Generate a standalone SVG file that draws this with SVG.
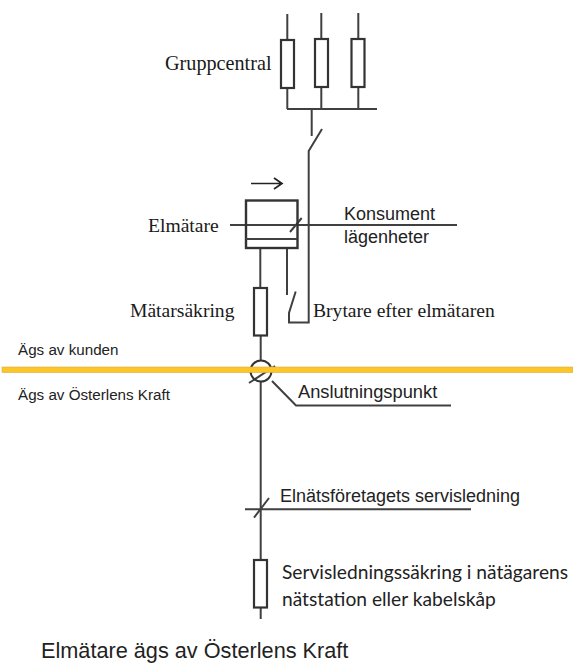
<svg xmlns="http://www.w3.org/2000/svg" width="573" height="666" viewBox="0 0 573 666">
<style>
.w{fill:none;stroke:#404040;stroke-width:2}
.f{fill:#fff;stroke:#333;stroke-width:2.200}
.s{font-family:"Liberation Serif",serif;font-size:19.6px;fill:#1a1a1a}
.a{font-family:"Liberation Sans",sans-serif;fill:#222}
.c{font-family:Lato,"Noto Sans",sans-serif;font-size:19.200px;fill:#222}
</style>
<rect width="573" height="666" fill="#fff"/>
<g id="connectors">
<path class="w" d="M287.3 14V40M287.3 88V109M321.3 13V39M321.3 87V109M358.3 13V39M358.3 87V109M287 109H377M311.7 109V136M322 129L308.7 151V322.5H289V313L295.7 291.500M287 248V295"/>
<path class="w" d="M230 225H457M290 232L301.700 218M260.300 248V288M260.700 336V360M260.700 381V560M260.700 608V619"/>
<path class="w" d="M272 381L296 405.500H451M245 509.300H471M254 517.700L269 498"/>
<path d="M249 383L275 366" class="w"/>
</g>
<g id="arrow"><path d="M251 183.500H282M274 178L282 183.500L274 189" fill="none" stroke="#222" stroke-width="1.700"/></g>
<g id="fuse-1"><rect class="f" x="281" y="40" width="13" height="48"/></g>
<g id="fuse-2"><rect class="f" x="315" y="39" width="13" height="48"/></g>
<g id="fuse-3"><rect class="f" x="351.500" y="39" width="13" height="48"/></g>
<g id="gruppcentral-label"><text class="s" x="165" y="70" style="font-size:20.200px">Gruppcentral</text></g>
<g id="elmatare"><rect x="246" y="200.500" width="51.500" height="47.500" fill="none" stroke="#333" stroke-width="2.400"/><path d="M246 239H297" class="w"/><text class="s" x="148" y="232">Elmätare</text></g>
<g id="consumer-label"><text class="a" x="344" y="220" font-size="18">Konsument</text><text class="a" x="344" y="243" font-size="18">lägenheter</text></g>
<g id="matarsakring"><rect class="f" x="254" y="288" width="13" height="47.500"/><text class="s" x="130" y="317">Mätarsäkring</text></g>
<g id="brytare-label"><text class="s" x="313" y="317">Brytare efter elmätaren</text></g>
<g id="connection-point"><circle cx="261" cy="371" r="10.500" fill="none" stroke="#333" stroke-width="2"/></g>
<g id="ownership-line"><rect x="2" y="367" width="571" height="5.500" fill="#fcc626" stroke="#d8b040" stroke-width=".6"/></g>
<g id="ownership-labels"><text class="a" x="18" y="355" font-size="15.200">Ägs av kunden</text><text class="a" x="18" y="400" font-size="15.200">Ägs av Österlens Kraft</text></g>
<g id="anslutningspunkt"><text class="a" x="298" y="398" font-size="18.300">Anslutningspunkt</text></g>
<g id="servisledning"><text class="a" x="280" y="502" font-size="18">Elnätsföretagets servisledning</text></g>
<g id="servis-fuse"><rect class="f" x="254" y="560" width="13" height="47.500"/><text class="c" x="282" y="579">Servisledningssäkring i nätägarens</text><text class="c" x="282" y="606">nätstation eller kabelskåp</text></g>
<g id="caption"><text class="a" x="41" y="658" font-size="21.700">Elmätare ägs av Österlens Kraft</text></g>
</svg>
